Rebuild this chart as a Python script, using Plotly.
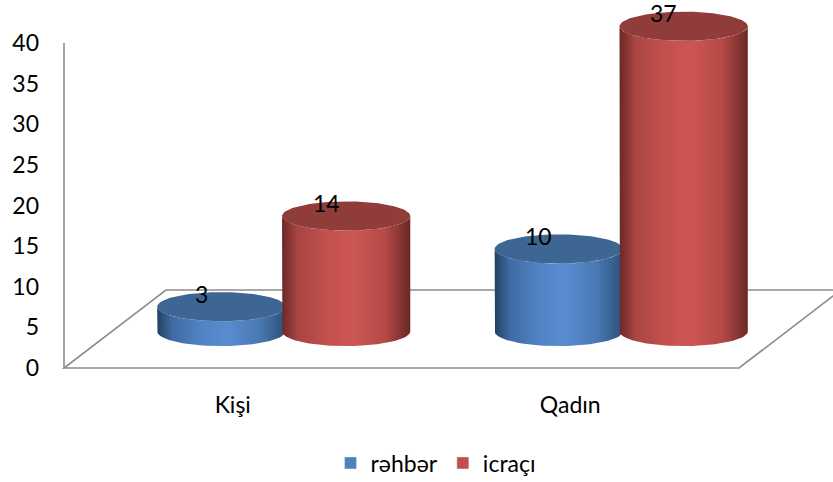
import numpy as np
import plotly.graph_objects as go

# ---------------- data ----------------
categories = ["Kişi", "Qadın"]
series_names = ["rəhbər", "icraçı"]
rehber = [3, 10]
icraci = [14, 37]
y_tick_values = [0, 5, 10, 15, 20, 25, 30, 35, 40]
y_tick_labels = ["0", "5", "10", "15", "20", "25", "30", "35", "40"]

# ---------------- style / geometry ----------------
FONT = "Lato"
FS = 23
W, H = 833, 482
ML, MB = 56, 106
PLOT_H = H - MB
PX_X = 337.5          # pixels per category step
PX_Y = 8.125          # pixels per value unit
ZERO_PX = 368         # pixel row of value 0
x_min = -0.5 - 8 / PX_X
x_max = x_min + (W - ML) / PX_X
y_max = ZERO_PX / PX_Y
y_min = -(PLOT_H - ZERO_PX) / PX_Y

DEPTH_X, DEPTH_Y = 0.302, 9.6     # floor depth (oblique projection)
MID_X, BASE_Y = 0.151, 4.5        # cylinder row in the middle of the depth
H_SCALE = 1.015                   # perspective stretch of the cylinder row
RX, RY = 0.19, 1.8                # ellipse radii
OFFS = [-0.185, 0.185]

side_scales = [
    [[0, "#22405f"], [0.12, "#3f6ba3"], [0.35, "#5283c4"], [0.55, "#5a8bd1"], [0.8, "#4a78b2"], [1, "#2e5079"]],
    [[0, "#6a2826"], [0.12, "#a84543"], [0.35, "#c2504d"], [0.55, "#cd5653"], [0.8, "#b54a47"], [1, "#6a2826"]],
]
top_colors = ["#3d6692", "#8f3c3a"]
legend_colors = ["#4f81bd", "#c0504d"]
axis_color = "#8c8c8c"

fig = go.Figure()

t_low = np.linspace(np.pi, 2 * np.pi, 60)
t_full = np.linspace(0, 2 * np.pi, 121)

series = [rehber, icraci]
for ci, cat in enumerate(categories):
    for si, vals in enumerate(series):
        v = vals[ci]
        cx = ci + MID_X + OFFS[si]
        top = BASE_Y + v * H_SCALE
        # side of cylinder
        xs = [cx - RX]
        ys = [top]
        xs += list(cx + RX * np.cos(t_low))
        ys += list(BASE_Y + RY * np.sin(t_low))
        xs += list(cx + RX * np.cos(t_low[::-1]))
        ys += list(top + RY * np.sin(t_low[::-1]))
        fig.add_trace(go.Scatter(
            x=xs, y=ys, mode="lines", fill="toself", line=dict(width=0),
            fillgradient=dict(type="horizontal", colorscale=side_scales[si]),
            hoverinfo="skip", showlegend=False))
        # top cap
        fig.add_trace(go.Scatter(
            x=cx + RX * np.cos(t_full), y=top + RY * np.sin(t_full),
            mode="lines", fill="toself", line=dict(width=0),
            fillcolor=top_colors[si], hoverinfo="skip", showlegend=False))
        fig.add_annotation(x=cx, y=top, text=str(v), showarrow=False,
                           xshift=-20, yshift=13,
                           font=dict(family=FONT, size=FS, color="#000000"))

# legend entries
for si, name in enumerate(series_names):
    fig.add_trace(go.Bar(x=[None], y=[None], name=name,
                         marker=dict(color=legend_colors[si]), hoverinfo="skip"))

# floor + vertical axis line
x0, x1 = -0.5, len(categories) - 0.5
floor_path = (f"M{x0},0 L{x1},0 L{x1 + DEPTH_X},{DEPTH_Y} "
              f"L{x0 + DEPTH_X},{DEPTH_Y} Z")
fig.add_shape(type="path", path=floor_path, xref="x", yref="y",
              line=dict(color=axis_color, width=1.6), layer="below")
fig.add_shape(type="line", x0=x0, x1=x0, y0=0, y1=y_tick_values[-1],
              xref="x", yref="y", line=dict(color=axis_color, width=1.6),
              layer="below")

fig.update_layout(
    width=W, height=H,
    margin=dict(l=ML, r=0, t=0, b=MB, autoexpand=False),
    paper_bgcolor="white", plot_bgcolor="white",
    font=dict(family=FONT, size=FS, color="#000000"),
    showlegend=True,
    legend=dict(orientation="h", x=(436 - ML) / (W - ML), xanchor="center",
                y=-(463 - PLOT_H) / PLOT_H, yanchor="middle",
                font=dict(family=FONT, size=FS, color="#000000"),
                bgcolor="rgba(0,0,0,0)"),
    xaxis=dict(range=[x_min, x_max], tickvals=list(range(len(categories))),
               ticktext=categories, showgrid=False, zeroline=False,
               showline=False, ticks="", ticklabelstandoff=13, fixedrange=True),
    yaxis=dict(range=[y_min, y_max], tickvals=y_tick_values, ticktext=y_tick_labels,
               showgrid=False, zeroline=False, showline=False, ticks="",
               ticklabelstandoff=16, fixedrange=True),
)

fig.write_html("out.html", config={"displayModeBar": False},
               post_script="document.body.style.margin='0';")
